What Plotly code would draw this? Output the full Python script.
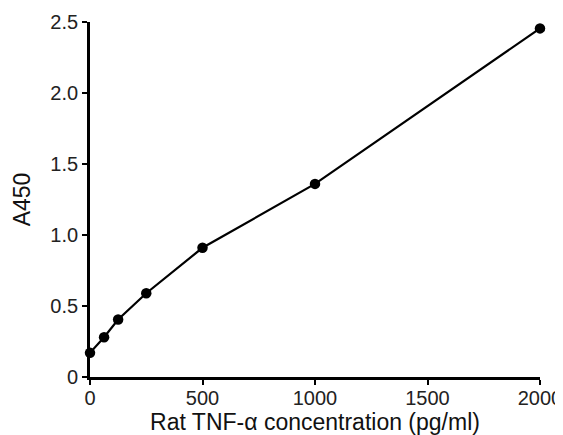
import plotly.graph_objects as go

# Rat TNF-alpha standard curve
conc = [0, 62.5, 125, 250, 500, 1000, 2000]
a450 = [0.17, 0.28, 0.405, 0.59, 0.91, 1.36, 2.455]

x_ticks = [0, 500, 1000, 1500, 2000]
x_labels = ["0", "500", "1000", "1500", "2000"]
y_ticks = [0, 0.5, 1.0, 1.5, 2.0, 2.5]
y_labels = ["0", "0.5", "1.0", "1.5", "2.0", "2.5"]

fig = go.Figure()
fig.add_trace(go.Scatter(
    x=conc, y=a450,
    mode="lines+markers",
    line=dict(color="black", width=2.2),
    marker=dict(color="black", size=10.5),
    cliponaxis=False,
    showlegend=False,
))

tick_font = dict(family="Liberation Sans, Arial, sans-serif", size=20, color="#222")
title_font = dict(family="Liberation Sans, Arial, sans-serif", size=23, color="#111")

# page body has an 8px default margin, so the figure is a bit smaller
fig.update_layout(
    width=555, height=427,
    margin=dict(l=82, r=23, t=14, b=58),
    paper_bgcolor="white", plot_bgcolor="white",
    font=tick_font,
)
fig.update_xaxes(
    range=[0, 2000], tickvals=x_ticks, ticktext=x_labels,
    showgrid=False, zeroline=False, automargin=False,
    showline=True, linecolor="black", linewidth=2.8,
    ticks="outside", ticklen=5, tickwidth=2, tickcolor="black",
    tickfont=tick_font, ticklabelstandoff=-4,
    title=dict(text="Rat TNF-α concentration (pg/ml)", standoff=2, font=title_font),
)
fig.update_yaxes(
    range=[0, 2.5], tickvals=y_ticks, ticktext=y_labels,
    showgrid=False, zeroline=False, automargin=False,
    showline=True, linecolor="black", linewidth=2.8,
    ticks="outside", ticklen=5, tickwidth=2, tickcolor="black",
    tickfont=tick_font,
    title=dict(text="A450", standoff=14, font=title_font),
)

fig.write_html("out.html")
